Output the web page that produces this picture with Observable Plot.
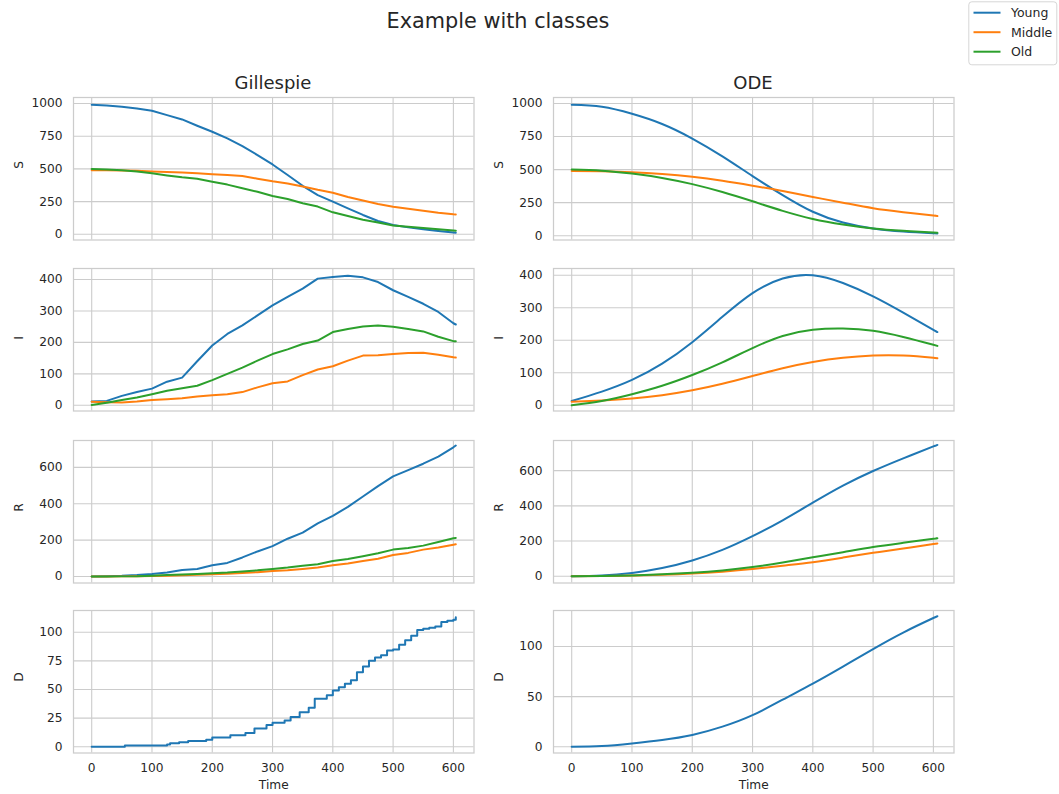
<!DOCTYPE html>
<html><head><meta charset="utf-8">
<script src="https://cdn.jsdelivr.net/npm/d3@7"></script>
<script src="https://cdn.jsdelivr.net/npm/@observablehq/plot@0.6"></script>
<style>
body{margin:0;background:#fff;font-family:"DejaVu Sans",sans-serif;}
#fig{position:relative;width:1059px;height:794px;overflow:hidden;background:#fff;}
#fig > svg{position:absolute;}
</style></head><body><div id="fig"></div>
<script>
// ---------- data ----------
const groups = ["Young", "Middle", "Old"];
const groupColors = ["#1f77b4", "#ff7f0e", "#2ca02c"];
const xTicks = [0, 100, 200, 300, 400, 500, 600];

// Gillespie (stochastic) sample times
const gTime = [0,25,50,75,100,125,150,175,200,225,250,275,300,325,350,375,400,425,450,475,500,525,550,575,600,604];
const gS_Young  = [990,984,975,962,944,911,878,830,784,733,674,606,534,453,371,300,250,198,148,102,71,53,38,25,14,12];
const gS_Middle = [490,489,487,485,481,477,472,466,459,453,445,425,405,388,366,340,318,285,258,232,211,195,180,165,153,152];
const gS_Old    = [500,495,490,480,466,450,436,425,402,380,352,325,293,270,237,212,168,140,112,90,68,58,48,38,30,28];
const gI_Young  = [12,14,30,42,53,75,88,140,190,227,254,286,318,345,371,403,408,412,407,392,366,345,323,297,261,257];
const gI_Middle = [11,10,9,12,17,19,22,28,32,35,42,57,70,76,96,114,124,142,158,159,163,166,167,161,153,152];
const gI_Old    = [1,8,17,25,35,46,54,62,80,100,120,142,163,178,195,206,233,243,251,254,250,243,235,218,204,204];
const gR_Young  = [0,2,4,8,14,22,36,42,62,75,105,138,167,208,241,292,333,383,440,497,550,585,620,659,710,720];
const gR_Middle = [0,0,1,2,3,5,7,10,13,16,20,24,30,35,42,50,62,72,85,98,118,130,148,160,175,177];
const gR_Old    = [0,0,1,2,5,8,11,14,18,22,28,34,42,50,60,68,85,97,112,128,148,157,170,190,210,212];
const gD_Time   = [0,55,125,130,145,160,190,200,230,255,270,290,300,320,330,345,360,370,390,400,410,420,430,440,450,460,470,480,490,500,510,520,530,540,550,560,570,580,590,600,604];
const gD_Young  = [0,1,2,3,4,5,6,8,10,12,16,19,21,23,26,30,34,42,45,49,52,55,58,65,70,75,78,80,84,85,89,93,97,102,103,104,105,109,110,111,113];

// ODE sample times
const oTime = [0,50,100,150,200,250,300,350,400,450,500,550,600,604];
const oS_Young  = [990,975,922,845,735,600,451,307,181,100,55,32,19,18];
const oS_Middle = [490,487,480,466,445,415,378,338,293,250,208,178,152,150];
const oS_Old    = [500,492,470,437,390,330,260,188,127,85,55,37,24,23];
const oI_Young  = [13,42,78,128,194,272,345,390,400,376,335,285,232,228];
const oI_Middle = [11,15,21,31,46,66,90,114,133,146,153,153,146,145];
const oI_Old    = [0,13,34,60,93,132,176,213,232,236,229,210,186,184];
const oR_Young  = [0,4,19,47,90,150,228,318,418,515,598,670,738,742];
const oR_Middle = [0,1,4,8,15,26,41,60,80,106,133,158,183,185];
const oR_Old    = [0,1,5,11,20,33,52,78,108,137,166,190,213,215];
const oD_Young  = [0,0.7,3.3,6.7,11.7,20,31.5,47,63,80,97.5,114,128.5,129.5];

// ---------- layout ----------
const fig = document.getElementById("fig");
const colLeft = [72.7, 552.7];
const rowTop = [97.3, 268.3, 440, 610];
const frameW = 400.5, frameH = 142.5;
const xDomain = [-30.2, 634.2];
const tickColor = "#262626";
const gridColor = "#cccccc";
const fontFam = "DejaVu Sans, sans-serif";

function table(time, seriesList, names) {
  const out = [];
  seriesList.forEach((vals, i) => time.forEach((t, j) => out.push({t, v: vals[j], g: names[i]})));
  return out;
}

const panels = [
  {row:0,col:0,label:"S",domain:[-43.5,1045.8],ticks:[0,250,500,750,1000],data:table(gTime,[gS_Young,gS_Middle,gS_Old],groups),curve:"linear"},
  {row:0,col:1,label:"S",domain:[-32.5,1045.3],ticks:[0,250,500,750,1000],data:table(oTime,[oS_Young,oS_Middle,oS_Old],groups),curve:"natural"},
  {row:1,col:0,label:"I",domain:[-18.2,435.2],ticks:[0,100,200,300,400],data:table(gTime,[gI_Young,gI_Middle,gI_Old],groups),curve:"linear"},
  {row:1,col:1,label:"I",domain:[-17.6,420.7],ticks:[0,100,200,300,400],data:table(oTime,[oI_Young,oI_Middle,oI_Old],groups),curve:"natural"},
  {row:2,col:0,label:"R",domain:[-35.4,747.5],ticks:[0,200,400,600],data:table(gTime,[gR_Young,gR_Middle,gR_Old],groups),curve:"linear"},
  {row:2,col:1,label:"R",domain:[-38.3,771.4],ticks:[0,200,400,600],data:table(oTime,[oR_Young,oR_Middle,oR_Old],groups),curve:"natural"},
  {row:3,col:0,label:"D",domain:[-5.5,119],ticks:[0,25,50,75,100],data:table(gD_Time,[gD_Young],["Young"]),curve:"step-after"},
  {row:3,col:1,label:"D",domain:[-6.3,136],ticks:[0,50,100],data:table(oTime,[oD_Young],["Young"]),curve:"natural"}
];

for (const p of panels) {
  const bottom = p.row === 3;
  const mL = 62, mR = 6, mT = 6, mB = bottom ? 46 : 6;
  const W = frameW + mL + mR, H = frameH + mT + mB;
  const marks = [
    Plot.gridX(xTicks, {stroke: gridColor, strokeOpacity: 1, strokeWidth: 1.1}),
    Plot.gridY(p.ticks, {stroke: gridColor, strokeOpacity: 1, strokeWidth: 1.1}),
    Plot.frame({stroke: gridColor, strokeWidth: 1.25}),
    Plot.axisY(p.ticks, {tickSize: 0, tickPadding: 11, tickFormat: "d", label: null, fontSize: 12.2, fill: tickColor}),
    Plot.text([p.label], {frameAnchor: "left", dx: -54, rotate: -90, fontSize: 12.2, fill: tickColor}),
    Plot.line(p.data, {x: "t", y: "v", z: "g", stroke: "g", strokeWidth: 2, curve: p.curve})
  ];
  if (bottom) {
    marks.push(Plot.axisX(xTicks, {tickSize: 0, tickPadding: 10, tickFormat: "d", label: null, fontSize: 12.2, fill: tickColor}));
    marks.push(Plot.text(["Time"], {frameAnchor: "bottom", dy: 35.5, fontSize: 12.2, fill: tickColor}));
  }
  const chart = Plot.plot({
    width: W, height: H,
    marginLeft: mL, marginRight: mR, marginTop: mT, marginBottom: mB,
    style: {fontFamily: fontFam, fontSize: "12.2px", color: tickColor, background: "transparent", overflow: "visible"},
    x: {domain: xDomain, axis: null},
    y: {domain: p.domain, axis: null},
    color: {domain: groups, range: groupColors},
    marks
  });
  chart.style.left = (colLeft[p.col] - mL) + "px";
  chart.style.top = (rowTop[p.row] - mT) + "px";
  fig.appendChild(chart);
}

// ---------- titles & legend overlay ----------
const svg = d3.select(fig).append("svg")
  .attr("width", 1059).attr("height", 794)
  .style("left", "0px").style("top", "0px")
  .style("font-family", fontFam).style("pointer-events", "none");

svg.append("text").attr("x", 498).attr("y", 27.7).attr("text-anchor", "middle")
  .attr("font-size", 20.8).attr("fill", tickColor).text("Example with classes");

const colTitles = ["Gillespie", "ODE"];
colTitles.forEach((t, i) => {
  svg.append("text").attr("x", colLeft[i] + frameW / 2).attr("y", 88.7).attr("text-anchor", "middle")
    .attr("font-size", 18).attr("fill", tickColor).text(t);
});

const lg = svg.append("g");
lg.append("rect").attr("x", 968.8).attr("y", 1.8).attr("width", 88).attr("height", 63)
  .attr("rx", 3).attr("fill", "#fff").attr("stroke", "#d6d6d6").attr("stroke-width", 1);
groups.forEach((g, i) => {
  const y = 12.7 + i * 19.5;
  lg.append("line").attr("x1", 973.5).attr("x2", 1000.5).attr("y1", y).attr("y2", y)
    .attr("stroke", groupColors[i]).attr("stroke-width", 2);
  lg.append("text").attr("x", 1011).attr("y", y).attr("dy", "0.36em")
    .attr("font-size", 12.5).attr("fill", tickColor).text(g);
});
</script></body></html>
